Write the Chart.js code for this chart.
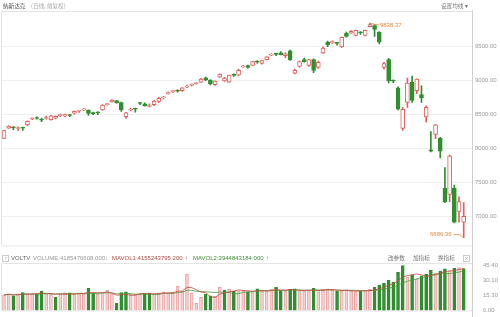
<!DOCTYPE html>
<html>
<head>
<meta charset="utf-8">
<script src="https://cdn.jsdelivr.net/npm/chart.js@4.4.1/dist/chart.umd.min.js"></script>
<style>
  html, body { margin: 0; padding: 0; background: #fff; }
  #wrap { position: relative; width: 500px; height: 317px; overflow: hidden;
          font-family: "Noto Sans CJK SC", "Liberation Sans", sans-serif; }
  canvas { position: absolute; left: 0; }
  #main { top: 0; }
  #vol { top: 252px; }
  .t { position: absolute; font-size: 5.6px; line-height: 8px; white-space: nowrap; color: #888; }
  .n { font-family: "Liberation Sans", sans-serif; font-size: 6px; }
  .box { position: absolute; border: 1px solid #ccc; width: 5px; height: 5px;
         font-size: 4.5px; line-height: 5px; text-align: center; color: #999; }
</style>
</head>
<body>
<div id="wrap">
  <canvas id="main" width="500" height="252"></canvas>
  <canvas id="vol" width="500" height="65"></canvas>

  <div class="t" style="left:3px;top:2px;color:#555">纳斯达克</div>
  <div class="t" style="left:31px;top:2px;color:#aaa">(日线, 前复权)</div>
  <div class="t" style="left:441px;top:2px;color:#777">设置均线 ▾</div>

  <div class="box" style="left:2px;top:255px">?</div>
  <div class="t n" style="left:11px;top:254px;color:#666">VOLTV</div>
  <div class="t n" style="left:33px;top:254px;color:#999">VOLUME:4185476608.000</div>
  <div class="t n" style="left:105px;top:254px;color:#999">↓</div>
  <div class="t n" style="left:112px;top:254px;color:#b0473d">MAVOL1:4155243795.200</div>
  <div class="t n" style="left:185px;top:254px;color:#d0504a">↑</div>
  <div class="t n" style="left:193px;top:254px;color:#3f8f3a">MAVOL2:3944843184.000</div>
  <div class="t n" style="left:266px;top:254px;color:#3f8f3a">↑</div>
  <div class="t" style="left:388px;top:254px;color:#777">改参数</div>
  <div class="t" style="left:413px;top:254px;color:#777">加指标</div>
  <div class="t" style="left:438px;top:254px;color:#777">换指标</div>
  <div class="box" style="left:463px;top:255px">×</div>
</div>

<script>
// trading days, 2019-10-25 .. 2020-03-18
const dates = [
  "10/25","10/28","10/29","10/30","10/31",
  "11/01","11/04","11/05","11/06","11/07","11/08","11/11","11/12","11/13","11/14",
  "11/15","11/18","11/19","11/20","11/21","11/22","11/25","11/26","11/27","11/29",
  "12/02","12/03","12/04","12/05","12/06","12/09","12/10","12/11","12/12","12/13",
  "12/16","12/17","12/18","12/19","12/20","12/23","12/24","12/26","12/27","12/30","12/31",
  "01/02","01/03","01/06","01/07","01/08","01/09","01/10","01/13","01/14","01/15",
  "01/16","01/17","01/21","01/22","01/23","01/24","01/27","01/28","01/29","01/30","01/31",
  "02/03","02/04","02/05","02/06","02/07","02/10","02/11","02/12","02/13","02/14",
  "02/18","02/19","02/20","02/21","02/24","02/25","02/26","02/27","02/28",
  "03/02","03/03","03/04","03/05","03/06","03/09","03/10","03/11","03/12","03/13",
  "03/16","03/17","03/18"
];

const opens = [
  8143, 8295, 8312, 8288, 8302, 8340, 8428, 8442, 8420, 8436,
  8420, 8440, 8478, 8472, 8482, 8512, 8542, 8562, 8558, 8518,
  8528, 8562, 8640, 8680, 8698, 8670, 8462, 8560, 8580, 8668,
  8650, 8612, 8640, 8688, 8738, 8800, 8830, 8842, 8843, 8896,
  8924, 8950, 8971, 9032, 9000, 8932, 9043, 8986, 8971, 9076,
  9072, 9194, 9214, 9214, 9274, 9243, 9300, 9366, 9384, 9400,
  9357, 9429, 9100, 9200, 9300, 9214, 9300, 9186, 9400, 9557,
  9550, 9548, 9486, 9686, 9690, 9657, 9696, 9657, 9786, 9800,
  9700, 9186, 9300, 8996, 8886, 8290, 8671, 8971, 8843, 8786,
  8457, 7975, 8200, 8143, 7414, 7320, 7414, 7071, 6914
];
const highs = [
  8262, 8330, 8318, 8312, 8310, 8400, 8446, 8460, 8440, 8470,
  8482, 8475, 8500, 8500, 8496, 8545, 8556, 8580, 8562, 8530,
  8535, 8640, 8660, 8712, 8700, 8676, 8525, 8590, 8590, 8672,
  8665, 8650, 8702, 8748, 8762, 8826, 8850, 8856, 8890, 8925,
  8945, 8960, 9025, 9045, 9006, 8990, 9092, 9040, 9075, 9092,
  9160, 9215, 9220, 9276, 9286, 9290, 9346, 9390, 9396, 9420,
  9402, 9440, 9160, 9280, 9322, 9305, 9312, 9280, 9490, 9572,
  9578, 9556, 9632, 9705, 9728, 9736, 9712, 9736, 9838.37, 9816,
  9712, 9262, 9320, 9005, 8900, 8600, 9029, 9057, 9020, 8914,
  8620, 8243, 8350, 8160, 7714, 7900, 7457, 7286, 7200
];
const lows = [
  8138, 8288, 8270, 8255, 8262, 8330, 8418, 8425, 8390, 8425,
  8410, 8430, 8462, 8460, 8462, 8500, 8526, 8550, 8480, 8490,
  8492, 8555, 8630, 8675, 8660, 8540, 8435, 8548, 8530, 8640,
  8615, 8605, 8625, 8668, 8722, 8794, 8820, 8824, 8835, 8888,
  8915, 8940, 8965, 8990, 8930, 8920, 9040, 8980, 8965, 9055,
  9060, 9185, 9175, 9210, 9245, 9235, 9295, 9360, 9360, 9368,
  9330, 9290, 9090, 9190, 9262, 9200, 9110, 9170, 9390, 9490,
  9535, 9512, 9480, 9632, 9684, 9648, 9670, 9650, 9780, 9643,
  9530, 9160, 8960, 8962, 8560, 8262, 8600, 8670, 8800, 8671,
  8380, 7945, 8140, 7857, 7200, 7214, 6900, 6914, 6686.36
];
const closes = [
  8257, 8325, 8296, 8303, 8292, 8395, 8440, 8436, 8412, 8442,
  8476, 8466, 8490, 8492, 8480, 8540, 8550, 8570, 8510, 8506,
  8519, 8632, 8648, 8705, 8666, 8560, 8520, 8568, 8572, 8656,
  8622, 8618, 8692, 8730, 8746, 8814, 8836, 8838, 8886, 8910,
  8938, 8955, 9014, 9004, 8945, 8986, 9088, 9029, 9072, 9068,
  9143, 9203, 9186, 9272, 9264, 9286, 9343, 9382, 9378, 9372,
  9386, 9300, 9143, 9272, 9272, 9300, 9143, 9262, 9470, 9515,
  9560, 9540, 9629, 9643, 9716, 9729, 9694, 9730, 9815, 9743,
  9557, 9243, 8986, 8985, 8571, 8570, 8957, 8700, 9014, 8743,
  8600, 7957, 8343, 7957, 7214, 7886, 6914, 7214, 7000
];
// volume in units of 1e8 shares
const volumes = [
  15.5, 16.5, 14.5, 16.5, 17.7, 16.8, 16.5, 16.2, 19.3, 16.5,
  16.0, 13.0, 16.8, 17.7, 17.5, 16.5, 16.6, 16.8, 22.0, 17.0,
  16.0, 16.8, 20.0, 16.5, 7.0, 17.7, 18.6, 16.0, 16.2, 16.0,
  17.0, 17.2, 16.5, 17.5, 18.5, 17.5, 18.0, 24.0, 19.0, 36.0,
  17.0, 7.0, 13.0, 16.4, 14.5, 14.0, 23.0, 20.0, 21.0, 19.0,
  19.5, 20.0, 18.5, 18.5, 21.5, 19.0, 19.5, 21.0, 23.0, 19.5,
  19.0, 21.0, 21.5, 19.5, 19.0, 19.5, 22.0, 20.0, 21.0, 21.5,
  20.0, 19.0, 19.0, 20.5, 19.5, 19.0, 19.0, 20.0, 21.0, 23.0,
  25.0, 27.0, 30.0, 28.0, 38.0, 44.8, 33.0, 35.0, 31.0, 34.5,
  36.0, 40.0, 37.0, 39.23, 41.5, 39.5, 42.0, 42.9, 41.85
];

const priceTicks = [7000, 7500, 8000, 8500, 9000, 9500];
const volTicks = [0, 15.3, 30.1, 45.4];
const maPeriods = [5, 10];

const RED = "#e0605c";
const GREEN = "#2f8f2f";
const PINK_FILL = "#f6d0d0";
const LABEL = "#e8873a";

const up = dates.map((d, i) => closes[i] >= opens[i]);
const volUp = dates.map((d, i) => i === 0 ? up[0] : closes[i] >= closes[i - 1]);

// moving average of volume (partial window at the start)
function movingAvg(arr, n) {
  return arr.map((v, i) => {
    const part = arr.slice(Math.max(0, i - n + 1), i + 1);
    return part.reduce((a, b) => a + b, 0) / part.length;
  });
}

const xScale = { type: "linear", display: false, offset: false, min: -0.43, max: 99.77,
                 grid: { offset: false } };

const framePlugin = {
  id: "frame",
  beforeDraw(chart) {
    const { ctx, chartArea: a } = chart;
    ctx.save();
    ctx.strokeStyle = "#e4e4e4";
    ctx.lineWidth = 1;
    ctx.beginPath();
    ctx.moveTo(Math.floor(a.left) - 0.5, a.bottom);
    ctx.lineTo(Math.floor(a.left) - 0.5, a.top - 0.5);
    ctx.lineTo(Math.round(a.right), a.top - 0.5);
    ctx.moveTo(Math.floor(a.left) - 0.5, a.bottom + 0.5);
    ctx.lineTo(Math.round(a.right), a.bottom + 0.5);
    ctx.stroke();
    ctx.strokeStyle = "#cfcfcf";
    ctx.beginPath();
    const rx = Math.round(a.right) + 0.5;
    ctx.moveTo(rx, chart.options.frameTop ?? a.top);
    ctx.lineTo(rx, chart.height);
    ctx.stroke();
    ctx.restore();
  }
};

const extremePlugin = {
  id: "extremes",
  afterDatasetsDraw(chart) {
    const { ctx, scales: { x, y } } = chart;
    let hi = 0, lo = 0;
    highs.forEach((v, i) => { if (v > highs[hi]) hi = i; });
    lows.forEach((v, i) => { if (v < lows[lo]) lo = i; });
    ctx.save();
    ctx.font = "6px 'Liberation Sans', sans-serif";
    ctx.fillStyle = LABEL;
    ctx.strokeStyle = LABEL;
    ctx.lineWidth = 0.8;
    ctx.textBaseline = "middle";

    const hx = x.getPixelForValue(hi), hy = y.getPixelForValue(highs[hi]);
    ctx.beginPath();
    ctx.moveTo(hx + 1, hy + 0.5);
    ctx.lineTo(hx + 9, hy + 2);
    ctx.stroke();
    ctx.textAlign = "left";
    ctx.fillText(highs[hi].toFixed(2), hx + 10, hy + 2);

    const lx = x.getPixelForValue(lo), ly = y.getPixelForValue(lows[lo]);
    ctx.beginPath();
    ctx.moveTo(lx - 10, ly - 3);
    ctx.lineTo(lx - 4, ly - 3);
    ctx.lineTo(lx - 1, ly - 0.5);
    ctx.stroke();
    ctx.textAlign = "right";
    ctx.fillText(lows[lo].toFixed(2), lx - 12, ly - 3);
    ctx.restore();
  }
};

new Chart(document.getElementById("main"), {
  type: "bar",
  data: {
    datasets: [
      {
        label: "body",
        data: dates.map((d, i) => ({ x: i, y: [opens[i], closes[i]] })),
        backgroundColor: up.map(u => u ? "#ffffff" : GREEN),
        borderColor: up.map(u => u ? RED : GREEN),
        borderWidth: 1,
        borderSkipped: false,
        barThickness: 4,
        minBarLength: 1,
        grouped: false,
        order: 0
      },
      {
        label: "wick",
        data: dates.map((d, i) => ({ x: i, y: [lows[i], highs[i]] })),
        backgroundColor: up.map(u => u ? RED : GREEN),
        borderWidth: 0,
        barThickness: 1,
        grouped: false,
        order: 1
      }
    ]
  },
  options: {
    responsive: false,
    animation: false,
    frameTop: 10,
    layout: { padding: { left: 2, top: 12, right: 0, bottom: 0 } },
    plugins: { legend: { display: false }, tooltip: { enabled: false } },
    scales: {
      x: xScale,
      y: {
        position: "right",
        min: 6571.4,
        max: 10000,
        afterFit: s => { s.width = 28; },
        afterBuildTicks: s => { s.ticks = priceTicks.map(v => ({ value: v })); },
        ticks: {
          callback: v => v.toFixed(2),
          font: { size: 6, family: "Liberation Sans" },
          color: "#9a9a9a",
          padding: 3
        },
        grid: { color: "#efefef", drawTicks: false },
        border: { display: false }
      }
    }
  },
  plugins: [framePlugin, extremePlugin]
});

const ma1 = movingAvg(volumes, maPeriods[0]);
const ma2 = movingAvg(volumes, maPeriods[1]);

new Chart(document.getElementById("vol"), {
  type: "bar",
  data: {
    datasets: [
      {
        type: "line",
        label: "MAVOL1",
        data: ma1.map((v, i) => ({ x: i, y: v })),
        borderColor: "#c0473f",
        borderWidth: 0.8,
        pointRadius: 0,
        tension: 0,
        order: 0
      },
      {
        type: "line",
        label: "MAVOL2",
        data: ma2.map((v, i) => ({ x: i, y: v })),
        borderColor: "#4c9a3c",
        borderWidth: 0.8,
        pointRadius: 0,
        tension: 0,
        order: 0
      },
      {
        label: "VOLUME",
        data: volumes.map((v, i) => ({ x: i, y: v })),
        backgroundColor: volUp.map(u => u ? PINK_FILL : GREEN),
        borderColor: volUp.map(u => u ? "#e9a2a2" : GREEN),
        borderWidth: 1,
        borderSkipped: "bottom",
        barThickness: 3,
        grouped: false,
        order: 1
      }
    ]
  },
  options: {
    responsive: false,
    animation: false,
    frameTop: 0,
    layout: { padding: { left: 2, top: 12, right: 0, bottom: 5 } },
    plugins: { legend: { display: false }, tooltip: { enabled: false } },
    scales: {
      x: xScale,
      y: {
        position: "right",
        min: 0,
        max: 46.4,
        afterFit: s => { s.width = 28; },
        afterBuildTicks: s => { s.ticks = volTicks.map(v => ({ value: v })); },
        ticks: {
          callback: v => v.toFixed(2),
          font: { size: 6, family: "Liberation Sans" },
          color: "#9a9a9a",
          padding: 3
        },
        grid: { display: false },
        border: { display: false }
      }
    }
  },
  plugins: [framePlugin]
});
</script>
</body>
</html>
